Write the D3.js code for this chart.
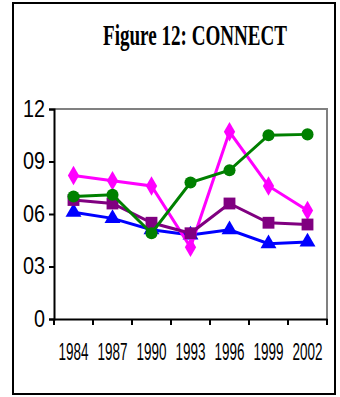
<!DOCTYPE html>
<html>
<head>
<meta charset="utf-8">
<script src="https://cdn.jsdelivr.net/npm/d3@7"></script>
<style>
  body { margin: 0; background: #fff; }
  svg text { font-family: "Liberation Sans", Arial, sans-serif; }
</style>
</head>
<body>
<div id="chart"></div>
<script>
// data
var years = ["1984", "1987", "1990", "1993", "1996", "1999", "2002"];
var yTicks = [0, 0.3, 0.6, 0.9, 1.2];
var yTickLabels = ["0", "03", "06", "09", "12"];
var pinkVals = [0.82, 0.79, 0.76, 0.41, 1.07, 0.76, 0.62];
var greenVals = [0.70, 0.71, 0.49, 0.78, 0.85, 1.05, 1.055];
var purpleVals = [0.68, 0.66, 0.55, 0.49, 0.66, 0.55, 0.54];
var blueVals = [0.61, 0.575, 0.51, 0.48, 0.51, 0.43, 0.44];

var series = [
  { name: "blue", values: blueVals, color: "#0000ff", symbol: d3.symbolTriangle, size: 110 },
  { name: "pink", values: pinkVals, color: "#ff00ff", symbol: d3.symbolDiamond, size: 110 },
  { name: "purple", values: purpleVals, color: "#800080", symbol: d3.symbolSquare, size: 140 },
  { name: "green", values: greenVals, color: "#008000", symbol: d3.symbolCircle, size: 115 }
];

var width = 340, height = 397;
var plotL = 54, plotR = 327, plotT = 109, plotB = 319;

var svg = d3.select("#chart").append("svg")
  .attr("width", width)
  .attr("height", height);

// outer frame
svg.append("rect")
  .attr("x", 13).attr("y", 3)
  .attr("width", 322).attr("height", 391)
  .attr("fill", "none")
  .attr("stroke", "#000")
  .attr("stroke-width", 2);

svg.append("text")
  .attr("x", 195).attr("y", 45)
  .attr("text-anchor", "middle")
  .attr("textLength", 184)
  .attr("lengthAdjust", "spacingAndGlyphs")
  .style("font-family", "'Liberation Serif', 'Times New Roman', serif")
  .style("font-weight", "bold")
  .style("font-size", "30px")
  .text("Figure 12: CONNECT");

var x = d3.scaleBand().domain(years).range([plotL, plotR]);
var y = d3.scaleLinear().domain([0, 1.2]).range([plotB, plotT]);

// plot area border (gray, top and right)
svg.append("path")
  .attr("d", "M" + plotL + "," + plotT + "H" + plotR + "V" + plotB)
  .attr("fill", "none")
  .attr("stroke", "#808080")
  .attr("stroke-width", 2);

var yAxis = svg.append("g")
  .attr("transform", "translate(" + plotL + ",0)")
  .call(d3.axisLeft(y).tickValues(yTicks).tickSize(5).tickPadding(4)
    .tickFormat(function(d, i) { return yTickLabels[i]; }));
yAxis.select(".domain").attr("stroke-width", 2);
yAxis.selectAll(".tick line").attr("stroke-width", 2);
yAxis.selectAll("text")
  .style("font-size", "23px")
  .attr("textLength", function(d, i) { return yTickLabels[i].length * 11; })
  .attr("lengthAdjust", "spacingAndGlyphs")
  .attr("fill", "#000");

var xAxis = svg.append("g")
  .attr("transform", "translate(0," + plotB + ")")
  .call(d3.axisBottom(x).tickSize(0).tickPadding(25));
xAxis.select(".domain").attr("stroke-width", 2);
xAxis.selectAll("text")
  .style("font-size", "23px")
  .attr("textLength", 30)
  .attr("lengthAdjust", "spacingAndGlyphs")
  .attr("fill", "#000");

// tick marks between categories
var edges = years.map(function(d) { return x(d); }).concat([plotR]);
svg.append("g").selectAll("line")
  .data(edges)
  .enter().append("line")
  .attr("x1", function(d) { return d; })
  .attr("x2", function(d) { return d; })
  .attr("y1", plotB)
  .attr("y2", plotB + 6)
  .attr("stroke", "#000")
  .attr("stroke-width", 2);

var line = d3.line()
  .x(function(d, i) { return x(years[i]) + x.bandwidth() / 2; })
  .y(function(d) { return y(d); });

series.forEach(function(s) {
  var g = svg.append("g");
  g.append("path")
    .datum(s.values)
    .attr("fill", "none")
    .attr("stroke", s.color)
    .attr("stroke-width", 3)
    .attr("d", line);
  g.selectAll("path.pt")
    .data(s.values)
    .enter().append("path")
    .attr("class", "pt")
    .attr("transform", function(d, i) {
      return "translate(" + (x(years[i]) + x.bandwidth() / 2) + "," + y(d) + ")";
    })
    .attr("d", d3.symbol().type(s.symbol).size(s.size))
    .attr("fill", s.color);
});
</script>
</body>
</html>
